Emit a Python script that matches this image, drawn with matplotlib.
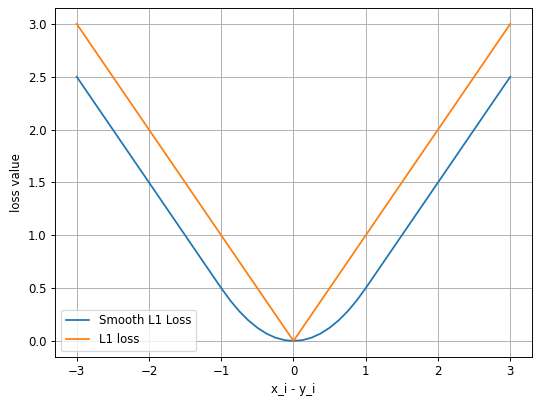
import matplotlib
matplotlib.use("Agg")
import matplotlib.pyplot as plt

# values
x_vals = [-3.0, -2.0, -1.0, -0.875, -0.75, -0.625, -0.5, -0.375, -0.25, -0.125, 0.0,
          0.125, 0.25, 0.375, 0.5, 0.625, 0.75, 0.875, 1.0, 2.0, 3.0]
smooth_l1 = [2.5, 1.5, 0.5, 0.383, 0.281, 0.195, 0.125, 0.070, 0.031, 0.008, 0.0,
             0.008, 0.031, 0.070, 0.125, 0.195, 0.281, 0.383, 0.5, 1.5, 2.5]
l1_x = [-3.0, 0.0, 3.0]
l1_loss = [3.0, 0.0, 3.0]

fig, ax = plt.subplots(figsize=(6.412, 4.765), dpi=85)
ax.plot(x_vals, smooth_l1, label="Smooth L1 Loss")
ax.plot(l1_x, l1_loss, label="L1 loss")
ax.set_xlabel("x_i - y_i")
ax.set_ylabel("loss value")
ax.grid(True)
ax.legend(loc="lower left")
fig.subplots_adjust(left=0.101, right=0.976, top=0.98, bottom=0.119)
fig.savefig("out.png")
